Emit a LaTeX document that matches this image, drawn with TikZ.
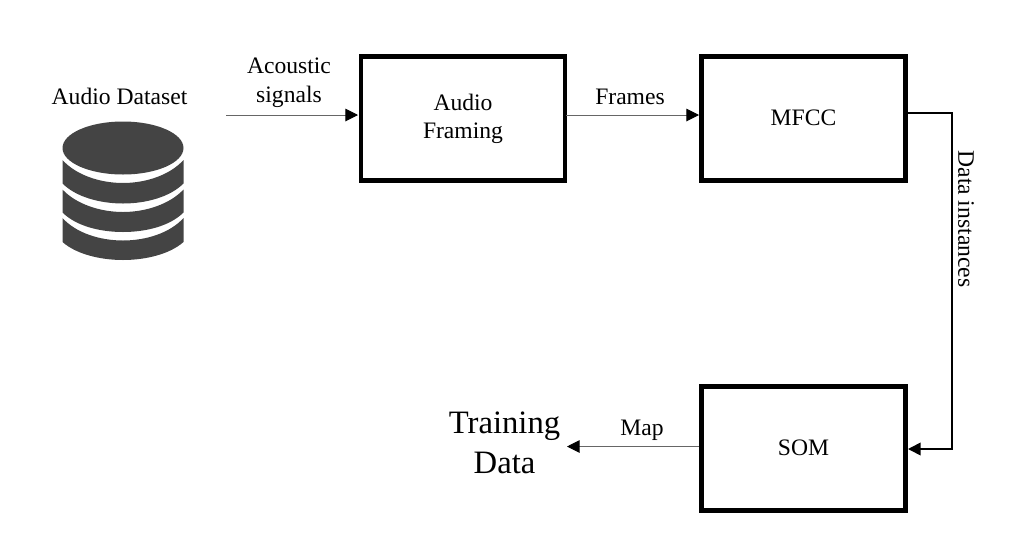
\documentclass[tikz,border=0pt]{standalone}
\usepackage{fontspec}
\setmainfont{Liberation Serif}
\usetikzlibrary{arrows.meta}
\definecolor{dbfill}{HTML}{444444}
\definecolor{thinline}{HTML}{666666}
\tikzset{
  x=0.75pt,y=-0.75pt,
  procbox/.style={draw=black,line width=3.7pt,fill=white,minimum width=153pt,minimum height=93.5pt,inner sep=0pt,align=center,font=\fontsize{17.7}{21}\selectfont},
  lbl/.style={inner sep=0pt,align=center,font=\fontsize{17.7}{21.5}\selectfont},
  thinarrow/.style={draw=thinline,line width=0.75pt,-{Triangle[length=9.5pt,width=9.5pt,fill=black,color=black]}},
  thickarrow/.style={draw=black,line width=1.3pt,-{Triangle[length=9.5pt,width=9.5pt]}},
  dbpart/.style={fill=dbfill,draw=none}
}
\begin{document}
\begin{tikzpicture}
\useasboundingbox (0,0) rectangle (1024,536);
% database
\fill[dbpart] (123,148) ellipse [x radius=60.5,y radius=26.5];
\fill[dbpart] (62.5,160) .. controls (76,175) and (100,183) .. (123,183) .. controls (146,183) and (170,175) .. (183.5,160) -- (183.5,183.5) .. controls (170,197) and (146,203.5) .. (123,203.5) .. controls (100,203.5) and (76,197) .. (62.5,183.5) -- cycle;
\fill[dbpart] (62.5,189.5) .. controls (76,204) and (100,212) .. (123,212) .. controls (146,212) and (170,204) .. (183.5,189.5) -- (183.5,212.5) .. controls (170,226) and (146,232) .. (123,232) .. controls (100,232) and (76,226) .. (62.5,212.5) -- cycle;
\fill[dbpart] (62.5,218) .. controls (76,233) and (100,240.5) .. (123,240.5) .. controls (146,240.5) and (170,233) .. (183.5,218) -- (183.5,242) .. controls (170,254) and (146,260) .. (123,260) .. controls (100,260) and (76,254) .. (62.5,242) -- cycle;
\node[lbl] (dataset) at (119.5,96) {Audio Dataset};
% boxes
\node[procbox] (framing) at (463,118.5) {\raisebox{0pt}{Audio}\\Framing};
\node[procbox] (mfcc) at (803.5,118.5) {\raisebox{1.5pt}{MFCC}};
\node[procbox] (som) at (803.5,448.5) {\raisebox{1.5pt}{SOM}};
% free ends
\coordinate (src) at (226,115);
\coordinate (mfccout) at (906,113);
\coordinate (somin) at (908,449);
\coordinate (bendA) at (952,113);
\coordinate (bendB) at (952,449);
\node[lbl,font=\fontsize{24.5}{30}\selectfont] (training) at (504.5,443) {Training\\Data};
\coordinate (mapend) at (567,446.5);
\coordinate (mapstart) at (699,446.5);
\coordinate (fout) at (566,115);
\coordinate (fin) at (699,115);
\coordinate (ain) at (358,115);
% connectors
\draw[thinarrow] (src) -- (ain);
\draw[thinarrow] (fout) -- (fin);
\draw[thinarrow] (mapstart) -- (mapend);
\draw[thickarrow] (mfccout) -- (bendA) -- (bendB) -- (somin);
% labels
\node[lbl] (acoustic) at (289,83) {Acoustic\\signals};
\node[lbl] (frames) at (630,97) {Frames};
\node[lbl] (map) at (642,430) {Map};
\node[lbl,rotate=-90] (instances) at (966,219) {Data instances};
\end{tikzpicture}
\end{document}
